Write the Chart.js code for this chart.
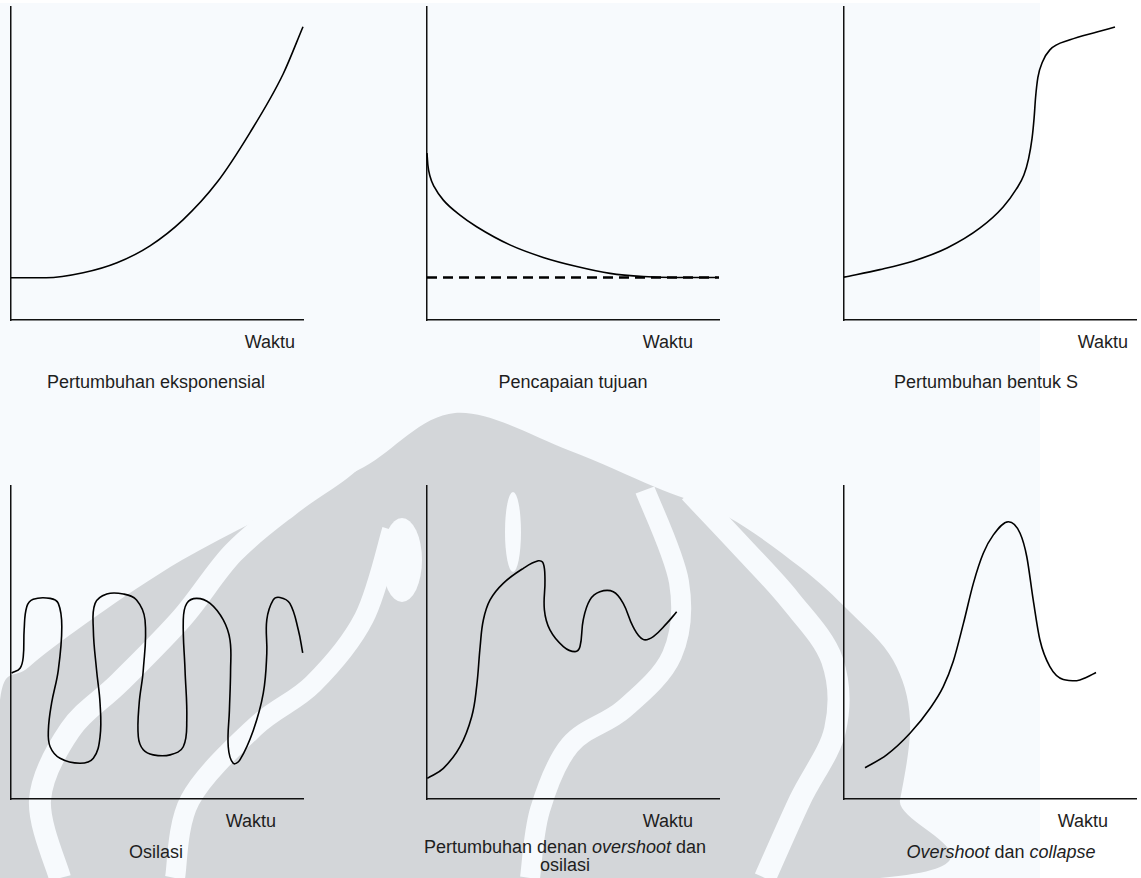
<!DOCTYPE html>
<html lang="id">
<head>
<meta charset="UTF-8">
<title>Pola perilaku sistem dinamis</title>
<script src="https://cdn.jsdelivr.net/npm/chart.js@4.4.0/dist/chart.umd.min.js"></script>
<style>
    body { margin: 0; width: 1141px; height: 878px; background: #fff; position: relative; overflow: hidden;
           font-family: "Liberation Sans", Arial, sans-serif; color: #1e1e1e; }
    #paper { position: absolute; left: 0; top: 3px; width: 1040px; height: 875px; background: #f7fafd; }
    #mark { position: absolute; left: 0; top: 0; }
    canvas { position: absolute; }
    .lbl { position: absolute; font-size: 18px; line-height: 18px; white-space: nowrap; }
    .cap { position: absolute; font-size: 18px; line-height: 18px; text-align: center; white-space: nowrap; transform: translateX(-50%); }
</style>
</head>
<body>
<div id="paper"></div>
<svg id="mark" width="1040" height="878"></svg>

<canvas id="c1"></canvas>
<canvas id="c2"></canvas>
<canvas id="c3"></canvas>
<canvas id="c4"></canvas>
<canvas id="c5"></canvas>
<canvas id="c6"></canvas>

<div class="lbl" style="top:333px; right:846px">Waktu</div>
<div class="lbl" style="top:333px; right:448px">Waktu</div>
<div class="lbl" style="top:333px; right:13px">Waktu</div>
<div class="lbl" style="top:812px; right:865px">Waktu</div>
<div class="lbl" style="top:812px; right:448px">Waktu</div>
<div class="lbl" style="top:812px; right:33px">Waktu</div>

<div class="cap" style="top:373px; left:156px">Pertumbuhan eksponensial</div>
<div class="cap" style="top:373px; left:573px">Pencapaian tujuan</div>
<div class="cap" style="top:373px; left:986px">Pertumbuhan bentuk S</div>
<div class="cap" style="top:843px; left:156px">Osilasi</div>
<div class="cap" style="top:838px; left:565px">Pertumbuhan denan <i>overshoot</i> dan<br>osilasi</div>
<div class="cap" style="top:843px; left:1001px"><i>Overshoot</i> dan <i>collapse</i></div>

<script>
    // --- data (x = waktu, y = nilai; both on a 0-100 scale) ---
    const expX = [0, 12, 24.7, 36.3, 47.6, 58.9, 70.5, 81.8, 93.2, 100];
    const expY = [13.5, 13.5, 15.1, 18.3, 23.7, 32, 43.9, 59.8, 78.6, 93.7];

    const goalX = [0, 0.3, 1, 2.5, 5.6, 11.3, 17, 28.4, 39.8, 51.3, 62.7, 74.1, 85, 99.3];
    const goalY = [53.3, 49.5, 46, 42.5, 38.3, 33.5, 29.8, 24, 20, 17.1, 14.9, 13.9, 13.6, 13.6];
    const targetX = [0, 100];
    const targetY = [13.6, 13.6];

    const sX = [0, 12.3, 23.6, 35.3, 46.6, 54.5, 59, 61.6, 63.2, 64.4, 65.1, 65.6, 66.4, 68, 70.5, 77.4, 86.6, 92.8];
    const sY = [13.7, 16.1, 18.8, 23, 29.4, 36.1, 41.8, 46.3, 51.5, 58, 64.5, 71, 77.5, 82.5, 86.3, 89.5, 92, 93.6];

    const oscX = [0.2, 3.1, 4.2, 4.5, 5.4, 7.6, 13.4, 16.2, 17.4, 16.2, 13.9, 12.8, 13.4, 16.8, 23.6, 28.2,
                  30.5, 30.5, 29.3, 28.2, 28.8, 32.8, 38.5, 43, 45.9, 45.3, 43.9, 43.6, 45.3, 48.7, 54.5,
                  59, 60.2, 59.6, 59, 60.2, 63.6, 68.2, 72.7, 75, 75.2, 74.8, 74.4, 76.1, 78.4, 83, 86.4,
                  87.6, 87.6, 89.8, 92.1, 95.5, 98.4, 99.9];
    const oscY = [40.2, 41.8, 45.5, 54, 61.4, 63.8, 64.1, 62.5, 55, 41.2, 30.6, 22, 16.7, 13, 11.4, 13,
                  19.9, 30.6, 41.2, 54, 62.5, 65.5, 65.5, 63.6, 57.2, 41.2, 30.6, 19.9, 15.7, 14.1, 14.1,
                  16.7, 25.2, 41.2, 57.2, 62.5, 64.1, 62.5, 57.2, 50.8, 41.2, 28.4, 16.7, 11.4, 12.5, 22, 33.8,
                  46.5, 57.2, 63.6, 64.4, 62.5, 54, 46.7];

    const overOscX = [0.1, 5.6, 11.3, 15.3, 17, 18.2, 19.3, 21.6, 26.1, 33, 38.1, 39.8, 40.4, 40.2, 42.1,
                      46.7, 50.7, 52.4, 53.5, 55.8, 59.2, 63.8, 67.2, 70.6, 74, 77.5, 82.1, 85.5];
    const overOscY = [6.6, 9.8, 16.7, 26.3, 35.9, 48.7, 57.2, 63.6, 68.9, 73.7, 76.1, 75.3, 70, 60.4, 54,
                      48.7, 47.1, 48.7, 57.2, 63.6, 66.2, 66.2, 62.5, 55, 51, 51.9, 56.1, 59.8];

    const collapseX = [7.2, 14.6, 22.6, 29.5, 34, 37.4, 40.9, 44.3, 47.7, 51.1, 56.3, 60.3, 62.6, 64.8,
                       67.1, 70.5, 75.1, 79.7, 83.1, 86.3];
    const collapseY = [10, 14.1, 21, 29, 35.9, 43.9, 56.1, 68.9, 78.5, 84.3, 88.6, 84.9, 77.4, 63.6,
                       50.8, 42.3, 38.2, 37.8, 38.9, 40.4];

    // --- layout: axis origin (left, bottom) of each panel in page pixels ---
    const PAD = 6, AXIS_W = 292, AXIS_H = 313;
    const panels = [
        { id: 'c1', left: 11,  bottom: 320, mono: true,  series: [[expX, expY]] },
        { id: 'c2', left: 427, bottom: 320, mono: true,  series: [[goalX, goalY], [targetX, targetY, true]] },
        { id: 'c3', left: 844, bottom: 320, mono: true,  series: [[sX, sY]] },
        { id: 'c4', left: 11,  bottom: 799, mono: false, series: [[oscX, oscY]] },
        { id: 'c5', left: 427, bottom: 799, mono: false, series: [[overOscX, overOscY]] },
        { id: 'c6', left: 844, bottom: 799, mono: true,  series: [[collapseX, collapseY]] }
    ];

    // faint watermark of the scanned page (background decoration only)
    const GREY = '#d3d6d9', PAPER = '#f7fafd';
    function smooth(pts, closed) {
        const p = closed ? [pts[pts.length - 1]].concat(pts, [pts[0], pts[1]]) : [pts[0]].concat(pts, [pts[pts.length - 1]]);
        let d = 'M' + pts[0][0] + ',' + pts[0][1];
        for (let i = 1; i < p.length - 2; i++) {
            const p0 = p[i - 1], p1 = p[i], p2 = p[i + 1], p3 = p[i + 2];
            const c1 = [p1[0] + (p2[0] - p0[0]) / 6, p1[1] + (p2[1] - p0[1]) / 6];
            const c2 = [p2[0] - (p3[0] - p1[0]) / 6, p2[1] - (p3[1] - p1[1]) / 6];
            d += ' C' + c1.join(',') + ' ' + c2.join(',') + ' ' + p2.join(',');
        }
        return d + (closed ? 'Z' : '');
    }
    const markParts = [
        { fill: GREY, pts: [[0,700],[29,667],[95,617],[182,560],[277,510],[364,467],[455,413],[568,450],[655,487],
                            [728,517],[800,567],[850,612],[893,660],[910,720],[900,800],[880,878],[0,878]] },
        { stroke: PAPER, w: 22, pts: [[60,878],[40,800],[70,730],[120,682],[182,618],[233,553],[290,505],[340,470],[375,440]] },
        { stroke: PAPER, w: 22, pts: [[765,878],[800,800],[835,730],[832,660],[790,600],[740,545],[690,492]] },
        { stroke: PAPER, w: 20, pts: [[392,530],[364,618],[313,684],[255,727],[190,800],[175,878]] },
        { stroke: PAPER, w: 20, pts: [[645,490],[679,582],[672,655],[624,709],[570,745],[540,810],[530,878]] },
        { ellipse: [402, 560, 20, 42] },
        { ellipse: [513, 532, 8, 40] }
    ];
    const svg = document.getElementById('mark');
    markParts.forEach(m => {
        let el;
        if (m.ellipse) {
            el = document.createElementNS('http://www.w3.org/2000/svg', 'ellipse');
            el.setAttribute('cx', m.ellipse[0]); el.setAttribute('cy', m.ellipse[1]);
            el.setAttribute('rx', m.ellipse[2]); el.setAttribute('ry', m.ellipse[3]);
            el.setAttribute('fill', PAPER);
        } else {
            el = document.createElementNS('http://www.w3.org/2000/svg', 'path');
            el.setAttribute('d', smooth(m.pts, !!m.fill));
            el.setAttribute('fill', m.fill || 'none');
            if (m.stroke) { el.setAttribute('stroke', m.stroke); el.setAttribute('stroke-width', m.w); }
        }
        svg.appendChild(el);
    });

    function toPoints(xs, ys) {
        return xs.map((x, i) => ({ x: x, y: ys[i] }));
    }

    const axisOpts = {
        type: 'linear', min: 0, max: 100,
        grid: { display: false, drawTicks: false },
        border: { display: true, color: '#111', width: 1.5 },
        ticks: { display: false }
    };

    panels.forEach(p => {
        const canvas = document.getElementById(p.id);
        canvas.width = AXIS_W + PAD * 2;
        canvas.height = AXIS_H + PAD * 2;
        canvas.style.left = (p.left - PAD) + 'px';
        canvas.style.top = (p.bottom - AXIS_H - PAD) + 'px';

        const datasets = p.series.map(s => ({
            data: toPoints(s[0], s[1]),
            borderColor: '#000',
            borderWidth: s[2] ? 2.6 : 1.6,
            borderDash: s[2] ? [10, 6] : [],
            tension: s[2] ? 0 : 0.4,
            cubicInterpolationMode: (p.mono && !s[2]) ? 'monotone' : 'default',
            pointRadius: 0,
            fill: false,
            clip: false
        }));

        new Chart(canvas, {
            type: 'line',
            data: { datasets: datasets },
            options: {
                responsive: false,
                animation: false,
                devicePixelRatio: 1,
                layout: { padding: PAD },
                plugins: { legend: { display: false }, tooltip: { enabled: false } },
                scales: {
                    x: Object.assign({}, axisOpts, { position: 'bottom' }),
                    y: Object.assign({}, axisOpts, { position: 'left' })
                }
            }
        });
    });
</script>
</body>
</html>
